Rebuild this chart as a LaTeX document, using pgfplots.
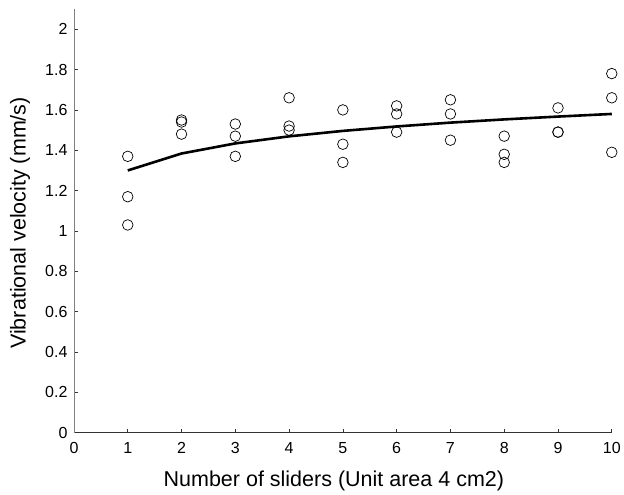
\documentclass[border=0pt]{standalone}
\usepackage{fontspec}
\setmainfont{Liberation Sans}
\usepackage{pgfplots}
\pgfplotsset{compat=1.18}

\begin{document}
\begin{tikzpicture}[x=1pt,y=1pt]
\begin{axis}[
  anchor=origin,
  at={(0,0)},
  scale only axis,
  width=538pt, height=424pt,
  xmin=0, xmax=10, ymin=0, ymax=2.1,
  axis lines*=left,
  axis line style={line width=0.9pt},
  y axis line style={gray},
  x axis line style={black!80},
  tick align=inside,
  major tick length=4pt,
  tick style={black!80, line width=0.7pt},
  xtick={0,1,...,10},
  ytick={0,0.2,...,2},
  /pgf/number format/assume math mode=true,
  /pgf/number format/fixed,
  ticklabel style={font=\fontsize{16}{19}\selectfont},
  xticklabel style={yshift=-6pt},
  yticklabel style={xshift=-3pt},
  xlabel={Number of sliders (Unit area 4 cm2)},
  ylabel={Vibrational velocity (mm/s)},
  label style={font=\fontsize{21.5}{25}\selectfont},
  xlabel style={at={(axis description cs:0.5,0)}, anchor=base, yshift=-54pt, xshift=-9pt},
  ylabel style={at={(axis description cs:0,0.5)}, anchor=center, yshift=54pt, xshift=-2pt},
  clip=false,
]
% measured velocities, three runs per slider count
\addplot[only marks, mark=o, mark size=5.3pt, mark options={line width=0.7pt, black}]
  coordinates {
  (1,1.37) (1,1.17) (1,1.03)
  (2,1.55) (2,1.54) (2,1.48)
  (3,1.53) (3,1.47) (3,1.37)
  (4,1.66) (4,1.52) (4,1.50)
  (5,1.60) (5,1.43) (5,1.34)
  (6,1.62) (6,1.58) (6,1.49)
  (7,1.65) (7,1.58) (7,1.45)
  (8,1.47) (8,1.38) (8,1.34)
  (9,1.61) (9,1.49) (9,1.49)
  (10,1.78) (10,1.66) (10,1.39)
  };
% logarithmic trend
\addplot[black, line width=2.6pt, mark=none]
  coordinates {
  (1,1.300) (2,1.384) (3,1.434) (4,1.469) (5,1.496)
  (6,1.518) (7,1.537) (8,1.553) (9,1.567) (10,1.580)
  };
\end{axis}
\path[use as bounding box] (-74,-59) rectangle (550,433);
\end{tikzpicture}
\end{document}
